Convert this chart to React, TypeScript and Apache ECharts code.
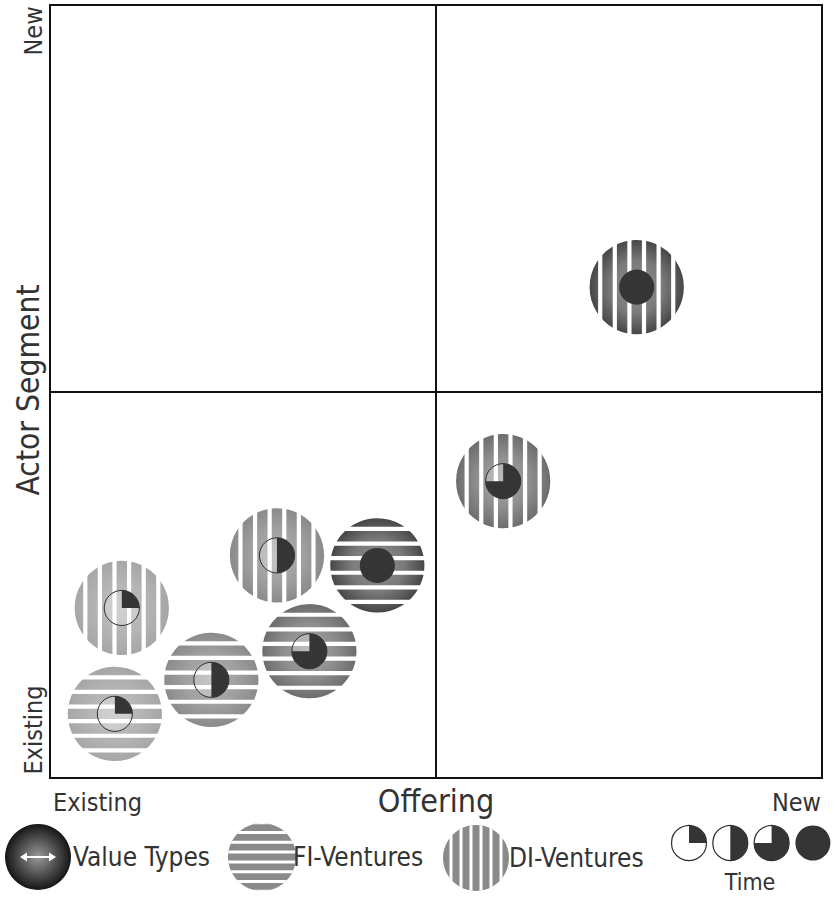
import React, { useEffect, useRef } from 'react';
import * as echarts from 'echarts';

// ---- data ----
const offering = [76.0, 58.7, 29.4, 42.4, 9.3, 33.6, 20.9, 8.4];
const actorSegment = [63.5, 38.4, 28.8, 27.5, 22.0, 16.4, 12.7, 8.3];
const timeShare = [1, 0.75, 0.5, 1, 0.25, 0.75, 0.5, 0.25];
const ventureType = ['DI', 'DI', 'DI', 'FI', 'DI', 'FI', 'FI', 'FI'];
const shadeLevel = [0, 1, 2, 0, 3, 1, 2, 3];

const offeringLevels = ['Existing', 'New'];
const segmentLevels = ['Existing', 'New'];
const xAxisName = 'Offering';
const yAxisName = 'Actor Segment';
const legendLabels = ['Value Types', 'FI-Ventures', 'DI-Ventures'];
const timeStages = [0.25, 0.5, 0.75, 1];
const timeLabel = 'Time';

// ---- styles ----
const SHADES = [
  ['#8f8f8f', '#7a7a7a', '#454545'],
  ['#a8a8a8', '#8e8e8e', '#6c6c6c'],
  ['#b2b2b2', '#a0a0a0', '#8a8a8a'],
  ['#c2c2c2', '#b4b4b4', '#a6a6a6'],
];
const BUBBLE_R = 6.2; // axis units
const INNER_R = 2.27;
const FONT = "'Liberation Sans Narrow', 'DejaVu Sans Condensed', 'Open Sans', sans-serif";
const TEXT = '#333';
const DARK = '#353535';

function radial(stops: string[]) {
  return {
    type: 'radial', x: 0.5, y: 0.5, r: 0.5,
    colorStops: [
      { offset: 0, color: stops[0] },
      { offset: 0.55, color: stops[1] },
      { offset: 1, color: stops[2] },
    ],
  };
}

function stripedCircle(cx: number, cy: number, r: number, dir: string, period: number, gap: number, fill: any, edge: number) {
  const children: any[] = [
    { type: 'circle', shape: { cx, cy, r }, style: { fill, stroke: '#fff', lineWidth: edge } },
  ];
  const kMax = Math.ceil(r / period) + 1;
  for (let k = -kMax; k < kMax; k++) {
    const c = (k + 0.5) * period;
    let t0 = c - gap / 2;
    let t1 = c + gap / 2;
    if (t1 <= -r || t0 >= r) continue;
    t0 = Math.max(t0, -r);
    t1 = Math.min(t1, r);
    const pts: number[][] = [];
    const n = 4;
    for (let i = 0; i <= n; i++) {
      const t = t0 + ((t1 - t0) * i) / n;
      const w = Math.sqrt(Math.max(0, r * r - t * t));
      pts.push(dir === 'h' ? [cx + w, cy + t] : [cx + t, cy + w]);
    }
    for (let i = n; i >= 0; i--) {
      const t = t0 + ((t1 - t0) * i) / n;
      const w = Math.sqrt(Math.max(0, r * r - t * t));
      pts.push(dir === 'h' ? [cx - w, cy + t] : [cx + t, cy - w]);
    }
    children.push({ type: 'polygon', shape: { points: pts }, style: { fill: '#fff' } });
  }
  return children;
}

function timeMarker(cx: number, cy: number, r: number, f: number, lw: number, emptyFill: string) {
  if (f >= 1) return [{ type: 'circle', shape: { cx, cy, r }, style: { fill: DARK } }];
  return [
    { type: 'circle', shape: { cx, cy, r }, style: { fill: emptyFill, stroke: '#2a2a2a', lineWidth: lw } },
    {
      type: 'sector',
      shape: { cx, cy, r, r0: 0, startAngle: -Math.PI / 2, endAngle: -Math.PI / 2 + 2 * Math.PI * f, clockwise: true },
      style: { fill: DARK },
    },
  ];
}

export default function App() {
  const ref = useRef<HTMLDivElement>(null);
  useEffect(() => {
    if (!ref.current) return;
    const chart = echarts.init(ref.current, undefined, { renderer: 'svg' });
    const data = offering.map((x, i) => [x, actorSegment[i], timeShare[i]]);

    const renderItem = (params: any, api: any) => {
      const i = params.dataIndex;
      const p = api.coord([api.value(0), api.value(1)]);
      const r = api.size([BUBBLE_R, 0])[0];
      const ri = api.size([INNER_R, 0])[0];
      const dir = ventureType[i] === 'FI' ? 'h' : 'v';
      const children = [
        ...stripedCircle(p[0], p[1], r, dir, 14.6, 4.2, radial(SHADES[shadeLevel[i]]), 1.5),
        ...timeMarker(p[0], p[1], ri, api.value(2), 1, 'rgba(255,255,255,0.25)'),
      ];
      return { type: 'group', children };
    };

    const axisCommon = {
      type: 'value', min: 0, max: 100, interval: 50,
      axisLine: { show: false }, axisTick: { show: false }, axisLabel: { show: false },
      splitLine: { show: true, lineStyle: { color: '#111', width: 2 } },
    };

    const textStyle = (text: string, size: number, align: string) => ({
      text, fontSize: size, fontFamily: FONT, fill: TEXT, textAlign: align, textVerticalAlign: 'middle',
    });

    const graphic: any[] = [
      { type: 'text', x: 33, y: 31, rotation: Math.PI / 2, style: textStyle(segmentLevels[1], 25, 'center') },
      { type: 'text', x: 28, y: 390, rotation: Math.PI / 2, style: textStyle(yAxisName, 31.5, 'center') },
      { type: 'text', x: 33, y: 730, rotation: Math.PI / 2, style: textStyle(segmentLevels[0], 25, 'center') },
      { type: 'text', x: 53, y: 802, style: textStyle(offeringLevels[0], 25, 'left') },
      { type: 'text', x: 436, y: 801, style: textStyle(xAxisName, 32, 'center') },
      { type: 'text', x: 821, y: 802, style: textStyle(offeringLevels[1], 25, 'right') },
      // legend: value types sphere
      {
        type: 'circle', shape: { cx: 38, cy: 857, r: 33 },
        style: {
          fill: {
            type: 'radial', x: 0.5, y: 0.5, r: 0.5,
            colorStops: [
              { offset: 0, color: '#9a9a9a' },
              { offset: 0.6, color: '#4a4a4a' },
              { offset: 1, color: '#151515' },
            ],
          },
        },
      },
      { type: 'line', shape: { x1: 25, y1: 857, x2: 51, y2: 857 }, style: { stroke: '#fff', lineWidth: 2 } },
      { type: 'polygon', shape: { points: [[20, 857], [27, 852.5], [27, 861.5]] }, style: { fill: '#fff' } },
      { type: 'polygon', shape: { points: [[56, 857], [49, 852.5], [49, 861.5]] }, style: { fill: '#fff' } },
      { type: 'text', x: 73, y: 857, style: textStyle(legendLabels[0], 26, 'left') },
      // FI legend
      { type: 'group', children: stripedCircle(262, 857, 34, 'h', 9.8, 3, '#8a8a8a', 0) },
      { type: 'text', x: 293, y: 857, style: textStyle(legendLabels[1], 26, 'left') },
      // DI legend
      { type: 'group', children: stripedCircle(476, 858, 33, 'v', 10, 3, '#8a8a8a', 0) },
      { type: 'text', x: 509, y: 858, style: textStyle(legendLabels[2], 26, 'left') },
      { type: 'text', x: 750, y: 882, style: textStyle(timeLabel, 23, 'center') },
    ];
    timeStages.forEach((f, k) => {
      graphic.push({ type: 'group', children: timeMarker(689 + 41.3 * k, 843, 17.5, f, 1.2, '#fff') });
    });

    chart.setOption({
      animation: false,
      grid: { left: 50, top: 5, width: 772, height: 773, show: true, borderColor: '#111', borderWidth: 2, backgroundColor: 'transparent' },
      xAxis: axisCommon,
      yAxis: axisCommon,
      series: [{ type: 'custom', renderItem, data, clip: false }],
      graphic,
    } as any);
    return () => chart.dispose();
  }, []);
  return <div ref={ref} style={{ position: 'fixed', left: 0, top: 0, width: 835, height: 903, background: '#fff' }} />;
}
